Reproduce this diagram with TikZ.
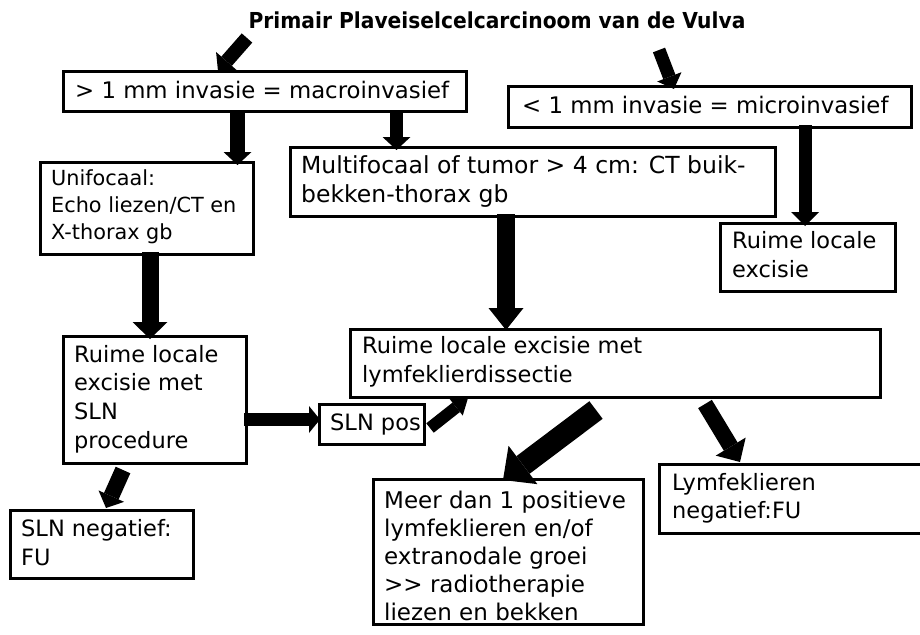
\documentclass[tikz,border=0pt]{standalone}
\usepackage{fontspec}
\setmainfont{DejaVu Sans}
\usetikzlibrary{arrows.meta,calc}
\begin{document}
\begin{tikzpicture}[x=1pt,y=-1pt,
  box/.style={draw, line width=3pt, inner sep=0pt, outer sep=0pt, anchor=north west},
  txt/.style={anchor=base west, inner sep=0pt, font=\fontsize{22.8}{28.5}\selectfont},
  blk/.style args={#1/#2/#3}{line width=#1pt, -{Triangle[width=#2pt,length=#3pt,line width=0pt]}}
]
\fill[white] (0,0) rectangle (920,634);
\useasboundingbox (0,0) rectangle (920,634);

% title
\node[anchor=base, inner sep=0pt, font=\fontsize{22}{26}\selectfont\bfseries] (title) at (497,29)
  {\scalebox{0.92}[1]{Primair Plaveiselcelcarcinoom van de Vulva}};

% boxes
\node[box, minimum width=403pt, minimum height=40pt] (macro) at (63,71) {};
\node[box, minimum width=403pt, minimum height=41pt] (micro) at (508,86) {};
\node[box, minimum width=213pt, minimum height=92pt] (uni) at (40,162) {};
\node[box, minimum width=485pt, minimum height=69pt] (multi) at (290,147) {};
\node[box, minimum width=175pt, minimum height=68pt] (rle) at (720,223) {};
\node[box, minimum width=183pt, minimum height=127pt] (rsln) at (63,336) {};
\node[box, minimum width=105pt, minimum height=40pt] (slnpos) at (319,404) {};
\node[box, minimum width=530pt, minimum height=68pt] (rlymf) at (350,329) {};
\node[box, minimum width=183pt, minimum height=68pt] (slnneg) at (10,510) {};
\node[box, minimum width=270pt, minimum height=145pt] (meer) at (373,479) {};
\node[box, minimum width=266pt, minimum height=69pt] (lneg) at (659,464) {};

% texts
\node[txt] (macrot) at (75,98) {> 1 mm invasie = macroinvasief};
\node[txt] (microt) at (522,113) {< 1 mm invasie = microinvasief};
\node[txt, font=\fontsize{20.8}{27}\selectfont] (unit) at (51,185)
  {\vtop{\hbox{Unifocaal:}\hbox{Echo liezen/CT en}\hbox{X-thorax gb}}};
\node[txt, font=\fontsize{23.5}{29}\selectfont] (multit) at (301,173)
  {\vtop{\hbox{Multifocaal of tumor > 4 cm: CT buik-}\hbox{bekken-thorax gb}}};
\node[txt, font=\fontsize{22.5}{29}\selectfont] (rlet) at (732,248)
  {\vtop{\hbox{Ruime locale}\hbox{excisie}}};
\node[txt, font=\fontsize{22.5}{28.7}\selectfont] (rslnt) at (74,362)
  {\vtop{\hbox{Ruime locale}\hbox{excisie met}\hbox{SLN}\hbox{procedure}}};
\node[txt, font=\fontsize{22.5}{28}\selectfont] (slnpost) at (330,430) {SLN pos};
\node[txt, font=\fontsize{22.5}{29}\selectfont] (rlymft) at (362,353)
  {\vtop{\hbox{Ruime locale excisie met}\hbox{lymfeklierdissectie}}};
\node[txt, font=\fontsize{22.5}{29}\selectfont] (slnnegt) at (21,536)
  {\vtop{\hbox{SLN negatief:}\hbox{FU}}};
\node[txt, font=\fontsize{23}{28}\selectfont] (meert) at (384,508)
  {\vtop{\hbox{Meer dan 1 positieve}\hbox{lymfeklieren en/of}\hbox{extranodale groei}\hbox{>{}> radiotherapie}\hbox{liezen en bekken}}};
\node[txt, font=\fontsize{22.5}{28}\selectfont] (lnegt) at (672,490)
  {\vtop{\hbox{Lymfeklieren}\hbox{negatief:FU}}};

% arrow tails
\coordinate (a1s) at (247,38);
\coordinate (a2s) at (659,50);
\coordinate (a3s) at (237.5,113);
\coordinate (a4s) at (396.5,113);
\coordinate (a5s) at (805,125);
\coordinate (a6s) at (506,214);
\coordinate (a7s) at (150,252);
\coordinate (a8s) at (244,419.5);
\coordinate (a9s) at (430,428);
\coordinate (a10s) at (596,410);
\coordinate (a11s) at (705,404);
\coordinate (a12s) at (123,470);

% arrows
\draw[blk=14/28/13] (a1s) -- ([shift={(155,0)}]macro.north west);
\draw[blk=13/26/13] (a2s) -- ([shift={(166,3)}]micro.north west);
\draw[blk=15/28/13] (a3s) -- ([shift={(197.5,3)}]uni.north west);
\draw[blk=13/28/13] (a4s) -- ([shift={(106.5,3)}]multi.north west);
\draw[blk=13/28/14] (a5s) -- ([shift={(85,3)}]rle.north west);
\draw[blk=18/35/22] (a6s) -- ([shift={(156,1)}]rlymf.north west);
\draw[blk=17/35/17] (a7s) -- ([shift={(87,3)}]rsln.north west);
\draw[blk=13/27/11] (a8s) -- ([shift={(1,15.5)}]slnpos.north west);
\draw[blk=12/21/15] (a9s) -- ([shift={(118,1)}]rlymf.south west);
\draw[blk=22/48/25] (a10s) -- ([shift={(130,1)}]meer.north west);
\draw[blk=16/35/18] (a11s) -- ([shift={(81,-2)}]lneg.north west);
\draw[blk=16/28/13] (a12s) -- ([shift={(96,-2)}]slnneg.north west);
\end{tikzpicture}
\end{document}
